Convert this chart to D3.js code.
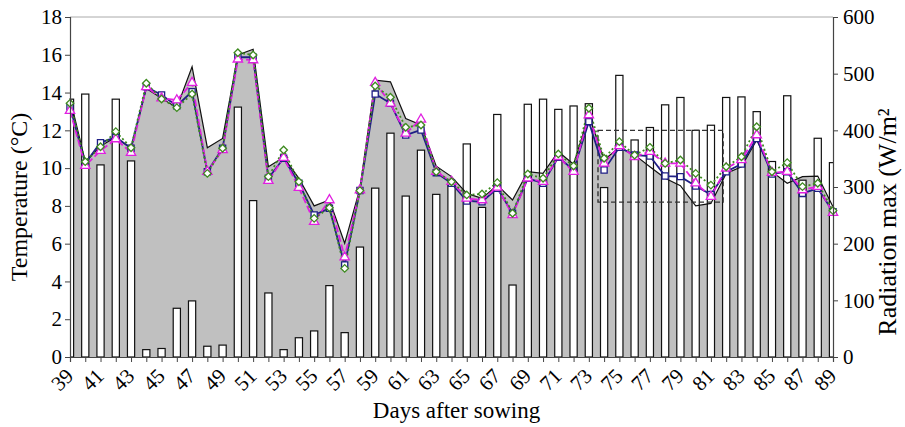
<!DOCTYPE html>
<html>
<head>
<meta charset="utf-8">
<script src="https://cdnjs.cloudflare.com/ajax/libs/d3/7.8.5/d3.min.js"></script>
<style>
body { margin: 0; background: #fff; }
svg text { font-family: "Liberation Serif", "Times New Roman", Tinos, "DejaVu Serif", serif; fill: #000; }
</style>
</head>
<body>
<svg width="905" height="427"></svg>
<script>
var days = [39, 40, 41, 42, 43, 44, 45, 46, 47, 48, 49, 50, 51, 52, 53, 54, 55, 56, 57, 58,
    59, 60, 61, 62, 63, 64, 65, 66, 67, 68, 69, 70, 71, 72, 73, 74, 75, 76, 77, 78,
    79, 80, 81, 82, 83, 84, 85, 86, 87, 88, 89];

var dayLabels = [39, 41, 43, 45, 47, 49, 51, 53, 55, 57, 59, 61, 63, 65, 67, 69, 71, 73, 75, 77, 79, 81, 83, 85, 87, 89];
var tempTicks = [0, 2, 4, 6, 8, 10, 12, 14, 16, 18];
var radTicks = [0, 100, 200, 300, 400, 500, 600];

// radiation max (W/m2), white bars
var radiation = [455, 464, 339, 455, 346, 13, 15, 86, 99, 19, 21, 441, 276, 113, 13, 34, 46, 126, 43, 194,
    298, 395, 284, 365, 287, 305, 376, 264, 428, 127, 446, 455, 437, 443, 447, 299, 497, 383, 405, 445,
    458, 400, 409, 458, 459, 433, 345, 461, 312, 386, 343];

// measured temperature, grey area
var measured = [13.7, 10.34, 11.17, 11.63, 11.05, 14.22, 13.7, 13.2, 15.37, 11.08, 11.57, 15.99, 16.29, 10.07, 10.57, 9.46, 8.0, 8.31, 6.02, 8.93,
    14.66, 14.57, 12.63, 12.28, 10.1, 9.55, 8.66, 8.4, 9.1, 8.31, 9.81, 9.72, 10.87, 10.2, 12.81, 10.43, 11.1, 10.7, 10.07, 9.46,
    9.07, 8.0, 8.13, 9.72, 10.07, 11.49, 9.81, 9.2, 9.55, 9.58, 7.96];

var seriesSquare = [13.25, 10.25, 11.35, 11.63, 11.05, 14.3, 13.87, 13.3, 14.05, 9.81, 11.05, 15.87, 15.87, 9.46, 10.52, 9.2, 7.52, 7.87, 4.87, 8.81,
    13.92, 13.43, 11.75, 12.02, 9.76, 9.2, 8.26, 8.22, 8.93, 7.61, 9.46, 9.2, 10.57, 9.9, 12.46, 9.9, 11.1, 10.69, 10.64, 9.58,
    9.55, 9.05, 8.6, 9.81, 10.22, 11.57, 9.69, 9.81, 8.66, 8.93, 7.69];

var seriesTriangle = [13.04, 10.13, 10.92, 11.54, 10.82, 14.3, 13.7, 13.6, 14.52, 9.81, 10.96, 15.76, 15.72, 9.33, 10.55, 8.96, 7.16, 8.31, 5.28, 8.84,
    14.52, 13.43, 11.84, 12.58, 9.81, 9.28, 8.4, 8.31, 8.98, 7.52, 9.46, 9.28, 10.6, 9.81, 12.81, 10.25, 11.17, 10.6, 10.87, 10.25,
    10.25, 9.2, 8.49, 9.99, 10.43, 11.75, 9.76, 9.81, 8.84, 9.02, 7.64];

var seriesDiamond = [13.43, 10.34, 11.13, 11.93, 11.08, 14.49, 13.66, 13.2, 13.92, 9.72, 11.05, 16.11, 15.99, 9.55, 10.96, 9.28, 7.34, 7.9, 4.69, 8.81,
    14.35, 13.75, 12.16, 12.28, 9.81, 9.28, 8.58, 8.63, 9.23, 7.61, 9.69, 9.46, 10.75, 10.11, 13.17, 10.52, 11.4, 10.69, 11.1, 10.25,
    10.43, 9.72, 9.1, 10.07, 10.6, 12.19, 9.81, 10.29, 9.02, 9.2, 7.75];

// dashed highlight box (days, °C)
var boxDays = [73.6, 81.8];
var boxTemp = [8.2, 12];

var svg = d3.select("svg"),
    margin = {top: 17, right: 72, bottom: 70, left: 70},
    width = +svg.attr("width") - margin.left - margin.right,
    height = +svg.attr("height") - margin.top - margin.bottom;

var serif = "'Liberation Serif', 'Times New Roman', Tinos, serif";

var g = svg.append("g").attr("transform", "translate(" + margin.left + "," + margin.top + ")");

var x = d3.scaleLinear().domain([39, 89]).range([0, width]);
var yT = d3.scaleLinear().domain([0, 18]).range([height, 0]);
var yR = d3.scaleLinear().domain([0, 600]).range([height, 0]);

svg.append("clipPath").attr("id", "plot-clip")
    .append("rect").attr("width", width).attr("height", height);

var plot = g.append("g").attr("clip-path", "url(#plot-clip)");

// grey area of measured temperature
var area = d3.area()
    .x(function(d, i) { return x(days[i]); })
    .y0(height)
    .y1(function(d) { return yT(d); });

plot.append("path")
    .datum(measured)
    .attr("d", area)
    .attr("fill", "#c0c0c0");

// radiation bars
var barW = 7.2;
plot.selectAll(".bar")
    .data(radiation)
    .enter().append("rect")
        .attr("class", "bar")
        .attr("x", function(d, i) { return x(days[i]) - barW / 2; })
        .attr("y", function(d) { return yR(d); })
        .attr("width", barW)
        .attr("height", function(d) { return height - yR(d); })
        .attr("fill", "#fff")
        .attr("stroke", "#111")
        .attr("stroke-width", 1.2);

var line = d3.line()
    .x(function(d, i) { return x(days[i]); })
    .y(function(d) { return yT(d); });

g.append("path")
    .datum(measured)
    .attr("d", line)
    .attr("fill", "none")
    .attr("stroke", "#111")
    .attr("stroke-width", 1.2);

// dashed box
g.append("rect")
    .attr("x", x(boxDays[0]))
    .attr("y", yT(boxTemp[1]))
    .attr("width", x(boxDays[1]) - x(boxDays[0]))
    .attr("height", yT(boxTemp[0]) - yT(boxTemp[1]))
    .attr("fill", "none")
    .attr("stroke", "#333")
    .attr("stroke-width", 1.4)
    .attr("stroke-dasharray", "5,3");

var series = [
    {values: seriesSquare, color: "#1f1f85", dash: null, symbol: d3.symbolSquare, size: 38},
    {values: seriesTriangle, color: "#e020e0", dash: "7,3", symbol: d3.symbolTriangle, size: 38},
    {values: seriesDiamond, color: "#3d8a1f", dash: "2,2.5", symbol: d3.symbolDiamond2 || d3.symbolDiamond, size: 36}
];

series.forEach(function(s) {
    g.append("path")
        .datum(s.values)
        .attr("d", line)
        .attr("fill", "none")
        .attr("stroke", s.color)
        .attr("stroke-width", 1.8)
        .attr("stroke-dasharray", s.dash);
});

series.forEach(function(s) {
    g.selectAll(null)
        .data(s.values)
        .enter().append("path")
            .attr("transform", function(d, i) { return "translate(" + x(days[i]) + "," + yT(d) + ")"; })
            .attr("d", d3.symbol().type(s.symbol).size(s.size))
            .attr("fill", "#fff")
            .attr("stroke", s.color)
            .attr("stroke-width", 1.3);
});

// top border
g.append("line")
    .attr("x1", 0).attr("x2", width)
    .attr("y1", 0).attr("y2", 0)
    .attr("stroke", "#aaa");

// axes
var leftAxis = g.append("g")
    .call(d3.axisLeft(yT).tickValues(tempTicks).tickSize(5).tickPadding(3));

var rightAxis = g.append("g")
    .attr("transform", "translate(" + width + ",0)")
    .call(d3.axisRight(yR).tickValues(radTicks).tickSize(5).tickPadding(5));

var bottomAxis = g.append("g")
    .attr("transform", "translate(0," + height + ")")
    .call(d3.axisBottom(x).tickValues(days).tickSize(5)
        .tickFormat(function(d) { return dayLabels.indexOf(d) >= 0 ? d : ""; }));

bottomAxis.selectAll("text")
    .attr("x", 0).attr("y", 0).attr("dy", "0.35em")
    .attr("text-anchor", "end")
    .attr("transform", "translate(-1,15) rotate(-45)");

[leftAxis, rightAxis, bottomAxis].forEach(function(a) {
    a.attr("font-family", null);
    a.select(".domain").attr("stroke", "#444").attr("stroke-width", 1.2);
    a.selectAll(".tick line").attr("stroke", "#444");
    a.selectAll("text").style("font-size", "21px").style("font-family", serif);
});

// titles
svg.append("text")
    .attr("x", margin.left + width / 2 + 5)
    .attr("y", 418)
    .attr("text-anchor", "middle")
    .style("font-family", serif)
    .style("font-size", "23px")
    .text("Days after sowing");

svg.append("text")
    .attr("transform", "translate(27,197) rotate(-90)")
    .attr("text-anchor", "middle")
    .style("font-family", serif)
    .style("font-size", "24px")
    .text("Temperature (°C)");

svg.append("text")
    .attr("transform", "translate(896,222) rotate(-90)")
    .attr("text-anchor", "middle")
    .style("font-family", serif)
    .style("font-size", "26px")
    .text("Radiation max (W/m²");
</script>
</body>
</html>
